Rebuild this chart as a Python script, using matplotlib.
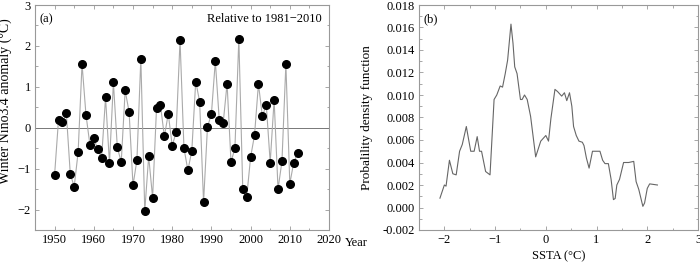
import matplotlib.pyplot as plt
from matplotlib.ticker import MultipleLocator

years = list(range(1950, 2013))
nino34 = [-1.15, 0.20, 0.13, 0.35, -1.13, -1.44, -0.60, 1.56, 0.32, -0.41,
          -0.26, -0.53, -0.73, 0.74, -0.87, 1.11, -0.48, -0.84, 0.91, 0.39,
          -1.41, -0.79, 1.69, -2.04, -0.70, -1.71, 0.48, 0.55, -0.21, 0.34,
          -0.44, -0.11, 2.14, -0.50, -1.04, -0.57, 1.13, 0.64, -1.82, 0.02,
          0.33, 1.63, 0.20, 0.11, 1.08, -0.84, -0.50, 2.18, -1.50, -1.70,
          -0.72, -0.18, 1.07, 0.28, 0.56, -0.85, 0.68, -1.50, -0.82, 1.56,
          -1.37, -0.85, -0.62]

ssta = [-2.087, -2.0, -1.967, -1.9, -1.833, -1.767, -1.7, -1.647, -1.567, -1.52,
        -1.48, -1.413, -1.353, -1.307, -1.267, -1.187, -1.1, -1.02, -0.967, -0.9,
        -0.853, -0.8, -0.753, -0.687, -0.647, -0.613, -0.567, -0.5, -0.467, -0.42,
        -0.367, -0.3, -0.2, -0.1, 0.0, 0.053, 0.1, 0.18, 0.233, 0.313,
        0.367, 0.413, 0.467, 0.513, 0.547, 0.6, 0.653, 0.72, 0.753, 0.8,
        0.853, 0.92, 0.98, 1.067, 1.12, 1.167, 1.233, 1.287, 1.333, 1.367,
        1.4, 1.453, 1.533, 1.633, 1.733, 1.78, 1.833, 1.913, 1.947, 2.0,
        2.047, 2.2]
pdf = [0.00083, 0.0020, 0.0019, 0.0042, 0.0030, 0.0029, 0.0050, 0.0056, 0.0072, 0.0060,
       0.0050, 0.0050, 0.0063, 0.0050, 0.0050, 0.0032, 0.0029, 0.0096, 0.0100, 0.0108,
       0.0107, 0.0119, 0.0131, 0.0163, 0.0146, 0.0125, 0.0119, 0.0096, 0.0096, 0.0100,
       0.0096, 0.0081, 0.0045, 0.0059, 0.0064, 0.0059, 0.0079, 0.0105, 0.0103, 0.0099,
       0.0102, 0.0095, 0.0102, 0.0090, 0.0072, 0.0064, 0.0059, 0.0058, 0.0055, 0.0044,
       0.0035, 0.0050, 0.0050, 0.0050, 0.0042, 0.0039, 0.0039, 0.0025, 0.0007, 0.0008,
       0.0020, 0.0025, 0.0040, 0.0040, 0.0041, 0.0023, 0.0016, 0.0001, 0.0004, 0.0017,
       0.0021, 0.0020]

plt.rcParams['font.family'] = ['Liberation Serif', 'DejaVu Serif']
plt.rcParams['font.size'] = 9
plt.rcParams['axes.unicode_minus'] = True

edge = '#999999'
fig = plt.figure(figsize=(7, 2.63), dpi=100)
ax1 = fig.add_axes([35 / 700, 33 / 263, 294 / 700, 225 / 263])
ax2 = fig.add_axes([419 / 700, 33 / 263, 279 / 700, 225 / 263])


def style(ax):
    for s in ax.spines.values():
        s.set_color(edge)
        s.set_linewidth(0.8)
    ax.tick_params(which='both', direction='in', top=True, right=True,
                   color=edge, width=0.6)
    ax.tick_params(which='major', length=3, pad=3)
    ax.tick_params(which='minor', length=1.8)


# (a) Nino3.4 time series
ax1.axhline(0, color='#777777', lw=0.7)
ax1.plot(years, nino34, color='#aaaaaa', lw=0.8, marker='o', markersize=5.5,
         markerfacecolor='black', markeredgecolor='black')
ax1.set_xlim(1945, 2020)
ax1.set_ylim(-2.5, 3)
ax1.xaxis.set_minor_locator(MultipleLocator(5))
ax1.yaxis.set_major_locator(MultipleLocator(1))
ax1.yaxis.set_minor_locator(MultipleLocator(0.5))
ax1.set_xticks(range(1950, 2021, 10))
ax1.set_ylabel('Winter Nino3.4 anomaly (°C)', fontsize=10)
ax1.yaxis.set_label_coords(-0.078, 0.575)
ax1.text(0.015, 0.965, '(a)', transform=ax1.transAxes, va='top', ha='left')
ax1.text(0.975, 0.965, 'Relative to 1981\u22122010', transform=ax1.transAxes,
         va='top', ha='right')
ax1.text(1.054, -0.057, 'Year', transform=ax1.transAxes, va='center', ha='left')
style(ax1)

# (b) PDF of SSTA
ax2.plot(ssta, pdf, color='#666666', lw=0.8)
ax2.set_xlim(-2.5, 3)
ax2.set_ylim(-0.002, 0.018)
ax2.xaxis.set_major_locator(MultipleLocator(1))
ax2.xaxis.set_minor_locator(MultipleLocator(0.5))
ax2.yaxis.set_major_locator(MultipleLocator(0.002))
ax2.yaxis.set_minor_locator(MultipleLocator(0.001))
ax2.yaxis.set_major_formatter(plt.FormatStrFormatter('%.3f'))
ax2.set_xlabel('SSTA (°C)', labelpad=3)
ax2.set_ylabel('Probalility density function', fontsize=9.5)
ax2.yaxis.set_label_coords(-0.165, 0.5)
ax2.text(0.015, 0.965, '(b)', transform=ax2.transAxes, va='top', ha='left')
style(ax2)

fig.savefig('out.png', dpi=100)
